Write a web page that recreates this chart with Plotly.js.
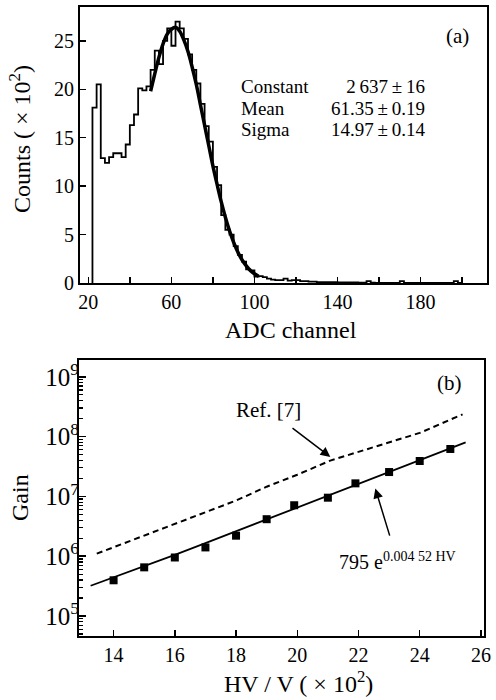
<!DOCTYPE html>
<html>
<head>
<meta charset="utf-8">
<script src="https://cdn.plot.ly/plotly-3.0.1.min.js"></script>
<style>html,body{margin:0;padding:0;background:#fff;}#chart{width:496px;height:700px;}</style>
</head>
<body>
<div id="chart"></div>
<script>
// ---------- Panel (a): ADC spectrum (counts in units of 10^2) ----------
const adcBins = [22,24,26,28,30,32,34,36,38,40,42,44,46,48,50,52,54,56,58,60,62,64,66,68,70,72,74,76,78,80,
  82,84,86,88,90,92,94,96,98,100,102,104,106,108,110,112,114,116,118,120,122,124,126,128,130,132,134,136,138,140,
  142,144,146,148,150,152,154,156,158,160,162,164,166,168,170,172,174,176,178,180,182,184,186,188,190,192,194,196,198];
const adcCounts = [18.1,20.5,12.9,12.4,13.0,13.4,13.4,13.0,14.3,16.3,17.4,20.1,19.9,20.3,22.0,24.0,22.6,25.0,26.3,24.5,27.0,26.3,25.2,23.6,22.0,20.6,18.5,16.2,14.6,12.0,
  10.1,7.0,5.5,5.0,3.8,2.9,2.2,1.4,1.3,0.65,0.7,0.6,0.45,0.35,0.3,0.3,0.45,0.25,0.3,0.3,0.2,0.2,0.15,0.15,0.1,0.1,0.1,0.08,0.08,0.06,
  0.06,0.05,0.05,0.05,0.03,0.03,0.2,0.03,0.02,0.02,0.02,0.02,0.02,0.02,0.2,0.02,0.02,0.02,0.02,0.02,0.02,0.02,0.02,0.02,0.02,0.02,0.02,0.2,0.02];
const fitADC = [50,52,54,56,58,60,62,64,66,68,70,72,74,76,78,80,82,84,86,88,90,92,94,96,98,100,102];
const fitCounts = [19.8,21.6,23.3,24.7,25.7,26.2,26.4,26.0,25.1,23.9,22.3,20.5,18.4,16.3,14.2,12.1,10.2,8.4,6.8,5.4,4.2,3.2,2.4,1.8,1.3,0.95,0.7];
const statLabels = ["Constant","Mean","Sigma"];
const statValues = ["2\u2009637\u2009\u00b1\u200916","61.35\u2009\u00b1\u20090.19","14.97\u2009\u00b1\u20090.14"];

// ---------- Panel (b): gain vs HV ----------
const hvPoints = [14,15,16,17,18,19,19.9,21,21.9,23,24,25];
const gainMeasured = [3.95e5,6.5e5,9.5e5,1.4e6,2.2e6,4.15e6,7.1e6,9.5e6,1.65e7,2.55e7,3.9e7,6.2e7];
const fitHV = [13.25,14,15,16,17,18,19,20,21,22,23,24,25,25.5];
const fitGain = [3.2e5,4.4e5,6.7e5,1.05e6,1.65e6,2.6e6,4.1e6,6.6e6,1.02e7,1.62e7,2.55e7,4.0e7,6.3e7,8.0e7];
const refHV = [13.45,14.6,16.0,16.8,18.0,19.0,20.0,21.1,22.0,23.0,24.0,25.4];
const refGain = [1.1e6,1.85e6,3.4e6,5.0e6,8.5e6,1.45e7,2.3e7,4.0e7,5.5e7,8.0e7,1.15e8,2.35e8];

// build histogram step outline from the bins
const binW = adcBins[1] - adcBins[0];
const stepX = [adcBins[0]], stepY = [0];
adcBins.forEach((b, i) => { stepX.push(b); stepY.push(adcCounts[i]); });
stepX.push(adcBins[adcBins.length - 1] + binW); stepY.push(0);

const FONT = "Liberation Serif, Times New Roman, serif";

const traces = [
  {x: stepX, y: stepY, type: "scatter", mode: "lines", line: {shape: "hv", color: "#000", width: 1.8},
   xaxis: "x", yaxis: "y", hoverinfo: "skip", showlegend: false},
  {x: fitADC, y: fitCounts, type: "scatter", mode: "lines", line: {shape: "spline", color: "#000", width: 3.5},
   xaxis: "x", yaxis: "y", showlegend: false},
  {x: refHV, y: refGain, type: "scatter", mode: "lines", line: {color: "#000", width: 2, dash: "6px,4px"},
   xaxis: "x2", yaxis: "y2", showlegend: false},
  {x: fitHV, y: fitGain, type: "scatter", mode: "lines", line: {color: "#000", width: 1.8},
   xaxis: "x2", yaxis: "y2", showlegend: false},
  {x: hvPoints, y: gainMeasured, type: "scatter", mode: "markers",
   marker: {symbol: "square", size: 8, color: "#000"}, xaxis: "x2", yaxis: "y2", showlegend: false}
];

const axBase = {
  showline: true, mirror: true, linecolor: "#000", linewidth: 2, showgrid: false, zeroline: false,
  ticks: "inside", tickcolor: "#000", tickwidth: 1.5, ticklen: 6, automargin: false,
  tickfont: {family: FONT, size: 20, color: "#000"}
};

const ML = 79, MR = 9, MT = 7, MB = 64;
const PW = 496 - ML - MR, PH = 700 - MT - MB;
const px = v => (v - ML) / PW;              // pixel x -> domain
const py = v => (700 - MB - v) / PH;        // pixel y -> domain

const TITLE_FONT = {family: FONT, size: 24, color: "#000"};
// stats block: tight line spacing with slightly larger glyphs
const big = s => '<span style="font-size:19px">' + s + '</span>';
const annotations = [
  {xref: "paper", yref: "paper", x: px(239), y: py(107.7), text: statLabels.map(big).join("<br>"), showarrow: false,
   xanchor: "left", yanchor: "middle", align: "left", font: {family: FONT, size: 16.6, color: "#000"}},
  {xref: "paper", yref: "paper", x: px(428), y: py(107.7), text: statValues.map(big).join("<br>"), showarrow: false,
   xanchor: "right", yanchor: "middle", align: "right", font: {family: FONT, size: 16.6, color: "#000"}},
  {xref: "paper", yref: "paper", x: px(457), y: py(36), text: "(a)", showarrow: false,
   xanchor: "center", yanchor: "middle", font: {family: FONT, size: 21, color: "#000"}},
  {xref: "paper", yref: "paper", x: px(449), y: py(383), text: "(b)", showarrow: false,
   xanchor: "center", yanchor: "middle", font: {family: FONT, size: 21, color: "#000"}},
  // axis titles placed where the reference has them
  {xref: "paper", yref: "paper", x: px(291), y: py(330), text: "ADC channel", showarrow: false,
   xanchor: "center", yanchor: "middle", font: TITLE_FONT},
  {xref: "paper", yref: "paper", x: px(20), y: py(139), text: "Counts ( \u00d7 10<sup>2</sup>)", showarrow: false,
   textangle: -90, xanchor: "center", yanchor: "middle", font: TITLE_FONT},
  {xref: "paper", yref: "paper", x: px(298), y: py(699), text: "HV / V ( \u00d7 10<sup>2</sup>)", showarrow: false,
   xanchor: "center", yanchor: "bottom", font: TITLE_FONT},
  {xref: "paper", yref: "paper", x: px(20), y: py(497), text: "Gain", showarrow: false,
   textangle: -90, xanchor: "center", yanchor: "middle", font: TITLE_FONT},
  // labels with arrows pointing to the curves
  {xref: "x2", yref: "y2", x: 21.08, y: 7.66, text: "Ref. [7]", showarrow: true, arrowhead: 2, arrowsize: 1.3,
   arrowwidth: 1.5, arrowcolor: "#000", ax: -62, ay: -47, standoff: 0, startstandoff: 8,
   font: {family: FONT, size: 21, color: "#000"}},
  {xref: "x2", yref: "y2", x: 22.55, y: 7.13, text: "795 e<sup>0.004 52 HV</sup>", showarrow: true, arrowhead: 2, arrowsize: 1.3,
   arrowwidth: 1.5, arrowcolor: "#000", ax: 22, ay: 72, standoff: 0, startstandoff: 12,
   font: {family: FONT, size: 20, color: "#000"}}
];

const layout = {
  width: 496, height: 700, paper_bgcolor: "#fff", plot_bgcolor: "#fff",
  margin: {l: ML, r: MR, t: MT, b: MB}, showlegend: false,
  font: {family: FONT, color: "#000"},
  xaxis: Object.assign({}, axBase, {domain: [px(80), 1], range: [16, 212], tick0: 20, dtick: 40, anchor: "y",
    minor: {ticks: "inside", tick0: 0, dtick: 20, ticklen: 6, tickwidth: 1.5, tickcolor: "#000", showgrid: false}}),
  yaxis: Object.assign({}, axBase, {domain: [py(283), 1], range: [0, 28.5], tick0: 0, dtick: 5, anchor: "x"}),
  xaxis2: Object.assign({}, axBase, {domain: [0, px(484)], range: [12.87, 26.1], tick0: 0, dtick: 2, anchor: "y2"}),
  yaxis2: Object.assign({}, axBase, {domain: [0, py(360)], type: "log", range: [4.665, 9.28], dtick: 1,
    exponentformat: "power", ticklen: 7, ticklabelstandoff: -6, anchor: "x2",
    minor: {ticks: "inside", dtick: "D1", ticklen: 4, tickwidth: 1.2, tickcolor: "#000", showgrid: false}}),
  annotations: annotations
};

Plotly.newPlot("chart", traces, layout, {staticPlot: true, displayModeBar: false});
</script>
</body>
</html>
